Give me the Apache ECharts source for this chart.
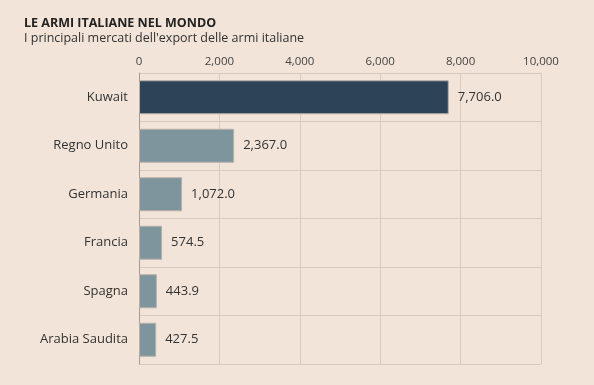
<!DOCTYPE html>
<html><head><meta charset="utf-8">
<script src="https://cdn.jsdelivr.net/npm/echarts@6/dist/echarts.min.js"></script>
<style>html,body{margin:0;padding:0;background:#f2e4d8;}#c{width:594px;height:385px;}</style>
</head><body><div id="c"></div>
<script>
const categories = ['Kuwait','Regno Unito','Germania','Francia','Spagna','Arabia Saudita'];
const values = [7706.0, 2367.0, 1072.0, 574.5, 443.9, 427.5];
const barColors = ['#2d4458','#7f959d','#7f959d','#7f959d','#7f959d','#7f959d'];
const font = '"Open Sans", sans-serif';
const chart = echarts.init(document.getElementById('c'));
chart.setOption({
  backgroundColor: '#f2e4d8',
  animation: false,
  title: {
    text: 'LE ARMI ITALIANE NEL MONDO',
    subtext: "I principali mercati dell'export delle armi italiane",
    left: 19, top: 12, itemGap: 2,
    textStyle: {fontFamily: font, fontSize: 12.5, fontWeight: 'bold', color: '#222'},
    subtextStyle: {fontFamily: font, fontSize: 12.5, color: '#333'}
  },
  grid: {left: 139, right: 53, top: 73, bottom: 21, containLabel: false},
  xAxis: {
    type: 'value', position: 'top', min: 0, max: 10000, interval: 2000,
    axisLabel: {fontFamily: font, fontSize: 11.5, color: '#444', margin: 5,
      formatter: v => v.toLocaleString('en-US')},
    axisLine: {show: false}, axisTick: {show: false},
    splitLine: {show: true, lineStyle: {color: '#d9cabd', width: 1}}
  },
  yAxis: {
    type: 'category', data: categories, inverse: true,
    axisLabel: {fontFamily: font, fontSize: 13, color: '#333', margin: 11},
    axisLine: {show: true, lineStyle: {color: '#a69a90'}},
    axisTick: {show: false},
    splitLine: {show: true, lineStyle: {color: '#d9cabd', width: 1}}
  },
  series: [{
    type: 'bar', barWidth: 34,
    data: values.map((v, i) => ({value: v, itemStyle: {color: barColors[i]}})),
    itemStyle: {borderColor: '#b8b0a8', borderWidth: 1},
    label: {show: true, position: 'right', distance: 9, fontFamily: font, fontSize: 13, color: '#333',
      formatter: p => p.value.toLocaleString('en-US', {minimumFractionDigits: 1, maximumFractionDigits: 1})}
  }]
});
</script></body></html>
